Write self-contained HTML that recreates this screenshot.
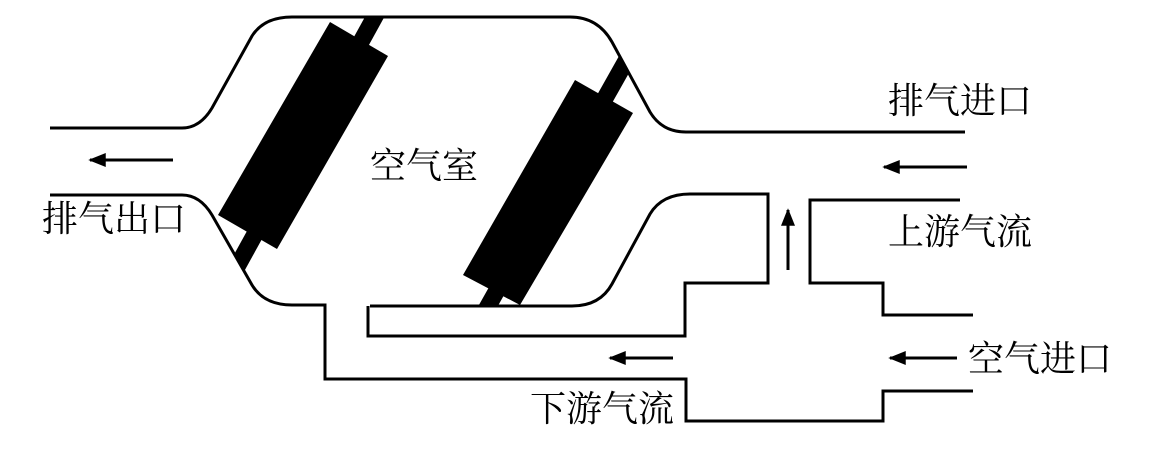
<!DOCTYPE html>
<html><head><meta charset="utf-8"><style>
html,body{margin:0;padding:0;background:#fff;width:1153px;height:460px;overflow:hidden}
text{font-family:"Liberation Serif","Noto Serif CJK SC",serif;font-size:36px;fill:#000}
</style></head><body>
<svg width="1153" height="460" viewBox="0 0 1153 460" xmlns="http://www.w3.org/2000/svg">
<defs>
<marker id="a" viewBox="0 0 10 8" markerWidth="24" markerHeight="14" refX="9" refY="4" orient="auto" markerUnits="userSpaceOnUse"><path d="M0,0 L10,4 L0,8 Z" fill="#000"/></marker>
<clipPath id="ch"><path d="M212,108 L252,36 Q264,17 292,17 L570,17 Q598,17 612,42 L650,112 Q662,132 686,132 L690,194 Q662,194 650,214 L612,284 Q600,306 572,306 L292,305 Q264,305 252,285 L212,215 Z"/></clipPath>
</defs>
<g fill="none" stroke="#000" stroke-width="3">
<path d="M50,128 L182,128 Q200,128 212,108 L252,36 Q264,17 292,17 L570,17 Q598,17 612,42 L650,112 Q662,132 686,132 L965,132"/>
<path d="M50,195 L182,195 Q200,195 212,215 L252,285 Q264,305 292,305 L325,305 L325,379 L686,379 L686,421 L883,421 L883,391 L973,391"/>
<path d="M370,306 L572,306 Q600,306 612,284 L650,214 Q662,194 690,194 L768,194 L768,283 L685,283 L685,336 L368,336 L368,306"/>
<path d="M960,200 L810,200 L810,283 L883,283 L883,315 L973,315"/>
</g>
<g stroke="#000" stroke-width="17" clip-path="url(#ch)">
<line x1="233" y1="274" x2="384" y2="0"/>
<line x1="478" y1="324" x2="640" y2="36"/>
</g>
<polygon points="330,22 388,56 277,249 218,215" fill="#000"/>
<polygon points="575,80 633,113 520,305 463,275" fill="#000"/>
<g stroke="#000" stroke-width="3">
<line x1="173" y1="160" x2="90" y2="160" marker-end="url(#a)"/>
<line x1="967" y1="167" x2="884" y2="167" marker-end="url(#a)"/>
<line x1="788" y1="270" x2="788" y2="210" marker-end="url(#a)"/>
<line x1="673" y1="358" x2="610" y2="358" marker-end="url(#a)"/>
<line x1="957" y1="358" x2="890" y2="358" marker-end="url(#a)"/>
</g>
<text x="42" y="231">排气出口</text>
<text x="370" y="178">空气室</text>
<text x="888" y="113">排气进口</text>
<text x="888" y="244">上游气流</text>
<text x="968" y="371">空气进口</text>
<text x="530" y="421">下游气流</text>
</svg>
</body></html>
